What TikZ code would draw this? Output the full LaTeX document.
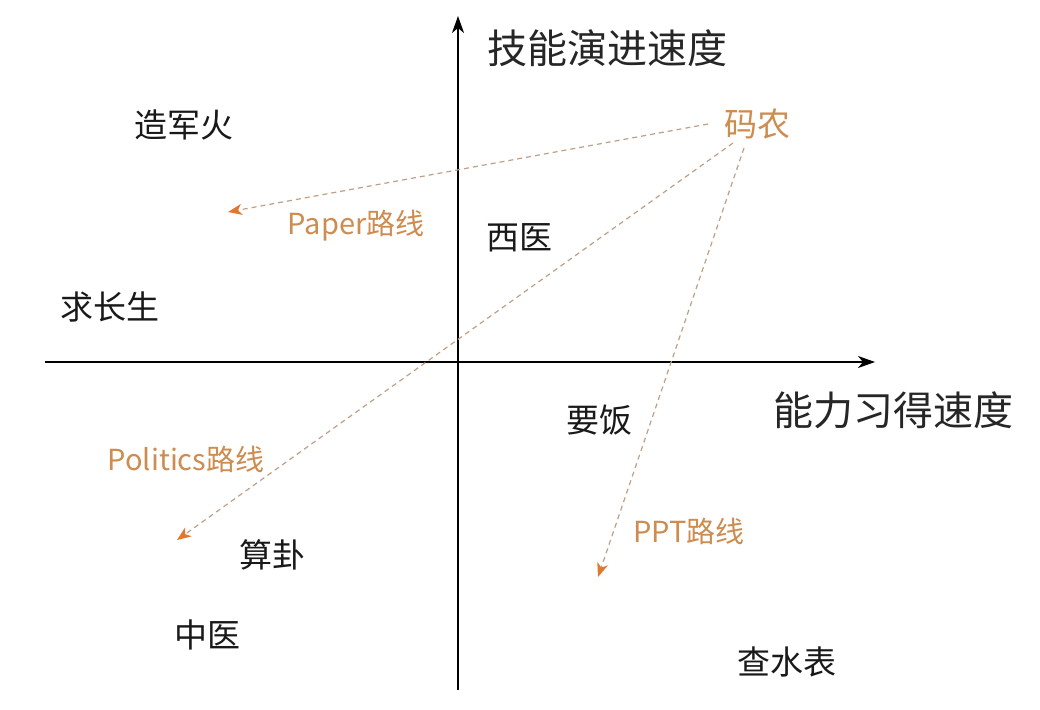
\documentclass[tikz,border=0pt]{standalone}
\usepackage{fontspec}
\setmainfont{Noto Sans CJK SC}
\usetikzlibrary{arrows.meta}
\definecolor{lbl}{RGB}{205,140,80}
\definecolor{dashc}{RGB}{190,160,135}
\definecolor{tipc}{RGB}{225,120,45}
\tikzset{
  axis/.style={line width=1.5pt, black, -{Stealth[length=17pt,width=12pt,inset=5pt]}},
  big/.style={font=\fontsize{40}{44}\selectfont, text=black!85, inner sep=0pt},
  item/.style={font=\fontsize{33}{38}\selectfont, text=black!90, inner sep=0pt},
  route/.style={font=\fontsize{29}{32}\selectfont, text=lbl, inner sep=0pt},
  routearr/.style={dashc, line width=1.2pt, dash pattern=on 5pt off 4pt, -{Stealth[length=14pt,width=11pt,inset=4pt,color=tipc]}}
}
\begin{document}
\begin{tikzpicture}[x=1pt,y=-1pt]
\useasboundingbox[fill=white] (0,0) rectangle (1040,709);
\coordinate (ybot) at (458,690);
\coordinate (ytop) at (458,16);
\coordinate (xl) at (45,362);
\coordinate (xr) at (875,362);
\draw[axis] (ybot) -- (ytop);
\draw[axis] (xl) -- (xr);
\node[big] (yl) at (607,48) {技能演进速度};
\node[big] (xlab) at (893,410) {能力习得速度};
\node[item] (zjh) at (184,125) {造军火};
\node[item] (qcs) at (110,307) {求长生};
\node[item] (xy) at (519,238) {西医};
\node[item] (yf) at (599,420) {要饭};
\node[item] (sg) at (272,555) {算卦};
\node[item] (zy) at (207,635) {中医};
\node[item] (csb) at (787,662) {查水表};
\node[font=\fontsize{33}{38}\selectfont, text=lbl, inner sep=0pt] (mn) at (757,124) {码农};
\node[route] (pap) at (356,226) {Paper路线};
\node[route] (pol) at (186,459) {Politics路线};
\node[route] (ppt) at (689,531) {PPT路线};
\coordinate (e1) at (228,212);
\coordinate (e2) at (177,540);
\coordinate (e3) at (598,577);
\coordinate (s1) at (708,124);
\coordinate (s2) at (733,143);
\coordinate (s3) at (744,148);
\draw[routearr] (s1) -- (e1);
\draw[routearr] (s2) -- (e2);
\draw[routearr] (s3) -- (e3);
\end{tikzpicture}
\end{document}
